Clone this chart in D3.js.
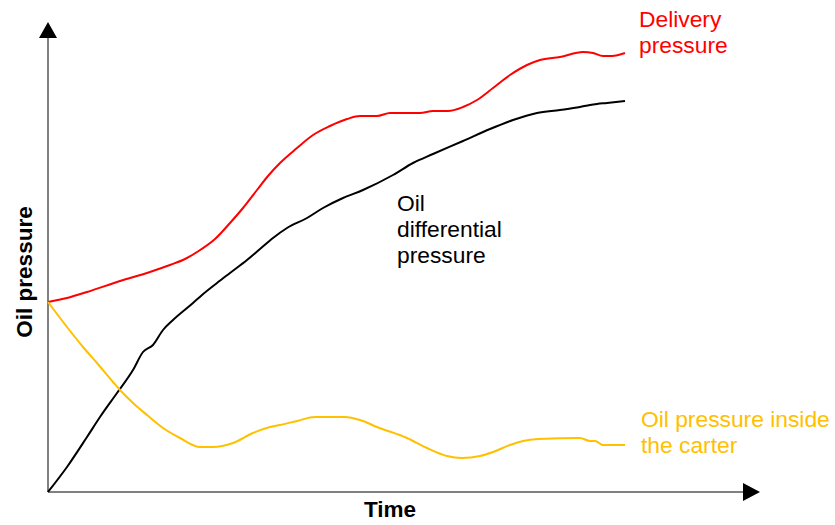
<!DOCTYPE html>
<html>
<head>
<meta charset="utf-8">
<script src="https://cdn.jsdelivr.net/npm/d3@7"></script>
<style>
  body { margin: 0; background: #fff; }
  text { font-family: Arial, "Liberation Sans", sans-serif; }
</style>
</head>
<body>
<svg id="chart"></svg>
<script>
// readings: [time, pressure] in arbitrary units
const deliveryPressure = [[0,190],[19,194],[39,200],[72,211],[102,220],[122,227],[137,233],[149,240],[167,253],[182,269],[195,284],[209,302],[220,316],[232,329],[249,344],[265,357],[282,366],[299,373],[312,376],[329,376],[342,379],[372,379],[385,381],[400,381],[415,385],[429,392],[445,404],[462,417],[479,427],[492,432],[512,435],[535,440],[545,439],[555,436],[564,436],[577,439]];
const differentialPressure = [[0,0],[19,25],[39,55],[52,75],[69,99],[85,122],[95,140],[105,147],[115,162],[125,172],[145,189],[154,197],[169,209],[182,219],[199,232],[212,243],[225,254],[239,264],[259,274],[275,284],[295,294],[315,302],[345,317],[365,329],[385,338],[415,351],[442,363],[465,372],[489,379],[512,382],[532,385],[542,387],[549,388],[559,389],[577,391]];
const carterPressure = [[0,190],[19,165],[35,145],[49,129],[65,110],[72,102],[85,89],[99,77],[115,64],[132,54],[152,45],[165,45],[185,49],[205,59],[222,65],[232,67],[249,71],[267,75],[297,75],[312,72],[329,65],[359,54],[379,44],[399,36],[414,34],[432,36],[445,40],[462,47],[475,51],[490,53],[532,54],[542,51],[547,51],[555,47],[577,47]];

const labelLines = [["Delivery", "pressure"], ["Oil", "differential", "pressure"], ["Oil pressure inside", "the carter"]];
const xTitle = "Time";
const yTitle = "Oil pressure";

const width = 835, height = 525;
const svg = d3.select("#chart").attr("width", width).attr("height", height);

// scales
const x = d3.scaleLinear().domain([0, 712]).range([48, 760]);
const y = d3.scaleLinear().domain([0, 470]).range([492, 22]);

// axes with arrow heads
const axisColor = "#808080";
svg.append("line")
    .attr("x1", x(0)).attr("x2", x(695))
    .attr("y1", y(0)).attr("y2", y(0))
    .attr("stroke", axisColor).attr("stroke-width", 2);
svg.append("line")
    .attr("x1", x(0)).attr("x2", x(0))
    .attr("y1", y(0)).attr("y2", y(454))
    .attr("stroke", axisColor).attr("stroke-width", 2);

svg.append("path")
    .attr("d", `M${x(712)},${y(0)} L${x(695)},${y(0) - 9} L${x(695)},${y(0) + 9} Z`)
    .attr("fill", "#000");
svg.append("path")
    .attr("d", `M${x(0)},${y(470)} L${x(0) - 9},${y(454)} L${x(0) + 9},${y(454)} Z`)
    .attr("fill", "#000");

// axis titles
svg.append("text")
    .attr("x", 390).attr("y", 517)
    .attr("text-anchor", "middle")
    .attr("font-size", 22.5).attr("font-weight", "bold")
    .text(xTitle);
svg.append("text")
    .attr("transform", "translate(32,272) rotate(-90)")
    .attr("text-anchor", "middle")
    .attr("font-size", 22.5).attr("font-weight", "bold")
    .text(yTitle);

// lines
const line = d3.line()
    .x(d => x(d[0]))
    .y(d => y(d[1]))
    .curve(d3.curveMonotoneX);

const colors = ["#ff0000", "#000000", "#ffc000"];
const series = [deliveryPressure, differentialPressure, carterPressure];

series.forEach((s, i) => {
    svg.append("path")
        .datum(s)
        .attr("fill", "none")
        .attr("stroke", colors[i])
        .attr("stroke-width", 2)
        .attr("stroke-linejoin", "round")
        .attr("d", line);
});

// series labels
const labelPos = [[639, 27], [397, 211], [641, 427]];
labelLines.forEach((lines, i) => {
    const t = svg.append("text")
        .attr("x", labelPos[i][0]).attr("y", labelPos[i][1])
        .attr("font-size", 22.8)
        .attr("fill", colors[i]);
    lines.forEach((l, j) => {
        t.append("tspan")
            .attr("x", labelPos[i][0])
            .attr("dy", j === 0 ? 0 : 26)
            .text(l);
    });
});
</script>
</body>
</html>
